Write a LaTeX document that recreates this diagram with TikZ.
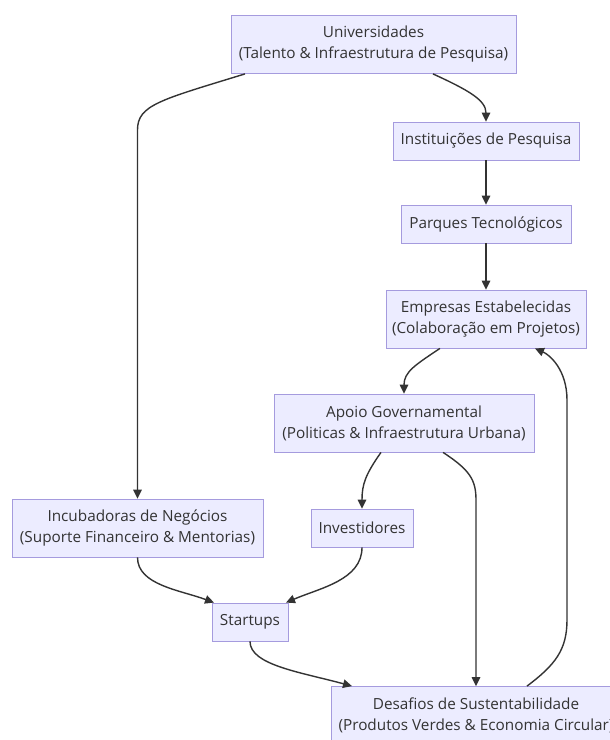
\documentclass[tikz,border=0pt]{standalone}
\usepackage{fontspec}
\setmainfont{Open Sans}
\usetikzlibrary{arrows.meta}
\definecolor{boxfill}{HTML}{ECECFF}
\definecolor{boxline}{HTML}{A59BDE}
\definecolor{ink}{HTML}{333333}
\begin{document}
\begin{tikzpicture}[x=1pt,y=-1pt,
  box/.style={draw=boxline,fill=boxfill,line width=0.8pt,inner sep=0pt,align=center,
    text=ink,font=\fontsize{15.3}{21}\selectfont,minimum height=38pt},
  box2/.style={box,minimum height=58pt},
  link/.style={draw=ink,line width=1.4pt,-{Triangle[length=9pt,width=8.5pt]}}
]
\clip (0,0) rectangle (610,740);
\fill[white] (0,0) rectangle (610,740);

\node[box2,minimum width=285pt] (U) at (373.5,44.5) {Universidades\\(Talento \& Infraestrutura de Pesquisa)};
\node[box,minimum width=186pt] (I) at (486,141) {Instituições de Pesquisa};
\node[box,minimum width=170pt] (P) at (486,224) {Parques Tecnológicos};
\node[box2,minimum width=200pt] (E) at (486,319) {Empresas Estabelecidas\\(Colaboração em Projetos)};
\node[box2,minimum width=260pt] (A) at (404,423) {Apoio Governamental\\(Politicas \& Infraestrutura Urbana)};
\node[box2,minimum width=251pt] (Inc) at (137.5,528) {Incubadoras de Negócios\\(Suporte Financeiro \& Mentorias)};
\node[box,minimum width=102pt] (Inv) at (362,528) {Investidores};
\node[box,minimum width=76pt] (S) at (250,622) {Startups};
\node[box2,minimum width=290pt] (D) at (476,715.5) {Desafios de Sustentabilidade\\(Produtos Verdes \& Economia Circular)};

\coordinate (uinc) at (137.5,130);
\coordinate (ad) at (476,500);
\coordinate (de1) at (567,620);
\coordinate (de2) at (567,400);

\draw[link] ([xshift=59.5pt]U.south) .. controls (468,90) and (486,100) .. (I.north);
\draw[link] ([xshift=-128.5pt]U.south) .. controls (160,100) and (137.5,105) .. (uinc) -- (Inc.north);
\draw[link] (I.south) -- (P.north);
\draw[link] (P.south) -- (E.north);
\draw[link] ([xshift=-46pt]E.south) .. controls (415,365) and (404,372) .. (A.north);
\draw[link] ([xshift=-23pt]A.south) .. controls (365,475) and (362,485) .. (Inv.north);
\draw[link] ([xshift=39pt]A.south) .. controls (470,470) and (476,480) .. (ad) -- (D.north);
\draw[link] (Inc.south) .. controls (137.5,585) and (180,590) .. ([xshift=-36pt]S.north);
\draw[link] (Inv.south) .. controls (362,580) and (320,588) .. ([xshift=36pt]S.north);
\draw[link] (S.south) .. controls (250,665) and (300,672) .. ([xshift=-124pt]D.north);
\draw[link] ([xshift=51pt]D.north) .. controls (555,665) and (567,650) .. (de1) -- (de2) .. controls (567,370) and (550,355) .. ([xshift=49pt]E.south);
\end{tikzpicture}
\end{document}
